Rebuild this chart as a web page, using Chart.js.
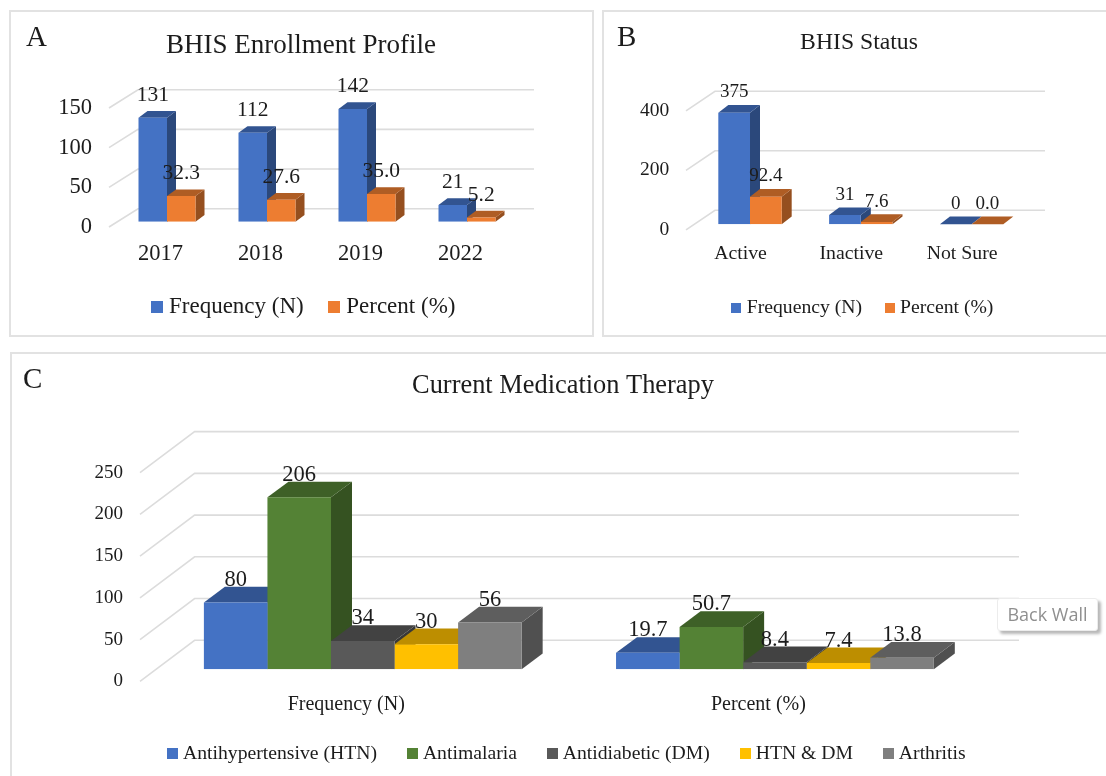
<!DOCTYPE html>
<html>
<head>
<meta charset="utf-8">
<title>BHIS charts</title>
<script src="https://cdn.jsdelivr.net/npm/chart.js@4"></script>
<style>
    html, body { margin: 0; padding: 0; background: #fff; }
    #page { position: relative; width: 1106px; height: 776px; overflow: hidden; background: #fff; font-family: "Liberation Serif", serif; }
    .panel { position: absolute; box-sizing: border-box; border: 2px solid #e2e2e2; }
    .letter { position: absolute; font-size: 29px; line-height: 1; color: #1c1c1c; }
    canvas { position: absolute; }
    #backWall { position: absolute; left: 997px; top: 598px; width: 101px; height: 33px; box-sizing: border-box; background: #fff;
        border: 1px solid #ececec; border-radius: 3px; box-shadow: 3px 3px 3px #b8b8b8; color: #8f8f8f;
        font: 18px/31px "Open Sans", sans-serif; text-align: center; }
</style>
</head>
<body>
<div id="page">
    <div class="panel" style="left:9px;top:10px;width:585px;height:327px"></div>
    <div class="panel" style="left:602px;top:10px;width:520px;height:327px"></div>
    <div class="panel" style="left:10px;top:352px;width:1120px;height:460px"></div>
    <canvas id="chartA" width="600" height="345" style="left:0;top:0;width:600px;height:345px"></canvas>
    <canvas id="chartB" width="506" height="345" style="left:600px;top:0;width:506px;height:345px"></canvas>
    <canvas id="chartC" width="1106" height="431" style="left:0;top:345px;width:1106px;height:431px"></canvas>
    <div class="letter" style="left:26px;top:22px">A</div>
    <div class="letter" style="left:617px;top:22px">B</div>
    <div class="letter" style="left:23px;top:364px">C</div>
    <div id="backWall">Back Wall</div>
</div>
<script>
// Panel A data
const enrollYears = ['2017', '2018', '2019', '2022'];
const enrollFreq = [131, 112, 142, 21];
const enrollPct = [32.3, 27.6, 35.0, 5.2];

// Panel B data
const statusLabels = ['Active', 'Inactive', 'Not Sure'];
const statusFreq = [375, 31, 0];
const statusPct = [92.4, 7.6, 0.0];

// Panel C data
const therapyLabels = ['Frequency (N)', 'Percent (%)'];
const therapyHtn = [80, 19.7];
const therapyMalaria = [206, 50.7];
const therapyDm = [34, 8.4];
const therapyBoth = [30, 7.4];
const therapyArthritis = [56, 13.8];

const BLUE = '#4472c4';
const ORANGE = '#ed7d31';
const GREEN = '#548235';
const DARK = '#595959';
const GOLD = '#ffc000';
const GRAY = '#7f7f7f';
const SERIF = '"Liberation Serif", serif';
const INK = '#1c1c1c';

function shade(hex, f) {
    const n = parseInt(hex.slice(1), 16);
    return `rgb(${((n >> 16) & 255) * f}, ${((n >> 8) & 255) * f}, ${(n & 255) * f})`;
}

function swatch(color, size) {
    const c = document.createElement('canvas');
    c.width = c.height = size;
    const g = c.getContext('2d');
    g.fillStyle = color;
    g.fillRect(0, 0, size, size);
    return c;
}

/**
 * Fake 3D look: slanted back wall grid, side and top faces behind the
 * library's own bars, value labels above, plus title and legend placement.
 */
function box3d(o) {
    return {
        id: 'box3d',
        afterLayout(chart) {
            const t = chart.titleBlock;
            const dt = o.titleX - (t.left + t.right) / 2;
            t.left += dt;
            t.right += dt;
            const l = chart.legend;
            const pad = l.options.labels.padding;
            const dl = o.legendX - (l.left + pad + l.right - l.lineWidths[0]) / 2;
            l.left += dl;
            l.right += dl;
            l.top += o.legendDy;
            l.bottom += o.legendDy;
            // tick labels are clipped to the scale box
            chart.scales.x.bottom = chart.height;
        },
        beforeDatasetsDraw(chart) {
            const { ctx, scales } = chart;
            ctx.save();
            ctx.strokeStyle = '#dcdcdc';
            ctx.lineWidth = 1.6;
            scales.y.ticks.forEach(tick => {
                const y = scales.y.getPixelForValue(tick.value);
                ctx.beginPath();
                ctx.moveTo(o.wall.frontX, y + o.wall.frontDy);
                ctx.lineTo(o.wall.backX, y + o.wall.backDy);
                ctx.lineTo(o.wall.rightX, y + o.wall.backDy);
                ctx.stroke();
            });
            // left to right so each top hides the side of the bar before it
            chart.data.labels.forEach((_, i) => {
                chart.data.datasets.forEach((ds, j) => {
                    const bar = chart.getDatasetMeta(j).data[i];
                    const left = bar.x - bar.width / 2;
                    const right = bar.x + bar.width / 2;
                    ctx.fillStyle = shade(ds.backgroundColor, 0.63);
                    ctx.beginPath();
                    ctx.moveTo(right, bar.y);
                    ctx.lineTo(right + o.dx, bar.y - o.dy);
                    ctx.lineTo(right + o.dx, bar.base - o.dy);
                    ctx.lineTo(right, bar.base);
                    ctx.fill();
                    ctx.fillStyle = shade(ds.backgroundColor, 0.74);
                    ctx.beginPath();
                    ctx.moveTo(left, bar.y);
                    ctx.lineTo(left + o.dx, bar.y - o.dy);
                    ctx.lineTo(right + o.dx, bar.y - o.dy);
                    ctx.lineTo(right, bar.y);
                    ctx.fill();
                });
            });
            ctx.restore();
        },
        afterDatasetsDraw(chart) {
            const { ctx } = chart;
            ctx.save();
            ctx.font = `${o.valueSize}px ${SERIF}`;
            ctx.fillStyle = INK;
            ctx.textAlign = 'center';
            ctx.textBaseline = 'middle';
            chart.data.datasets.forEach((ds, j) => {
                chart.getDatasetMeta(j).data.forEach((bar, i) => {
                    ctx.fillText(o.valueText(ds.data[i], j, i), bar.x, bar.y - o.valueGap);
                });
            });
            ctx.restore();
        }
    };
}

function makeChart(id, labels, series, o) {
    return new Chart(document.getElementById(id), {
        type: 'bar',
        data: {
            labels,
            datasets: series.map(s => ({
                label: s.label,
                data: s.data,
                backgroundColor: s.color,
                borderWidth: 0,
                categoryPercentage: o.groupWidth,
                barPercentage: 1
            }))
        },
        options: {
            responsive: false,
            animation: false,
            events: [],
            layout: { padding: { right: o.rightPad } },
            plugins: {
                title: {
                    display: true,
                    text: o.title,
                    color: INK,
                    font: { family: SERIF, size: o.titleSize, weight: 'normal', lineHeight: 1 },
                    padding: { top: o.titleTop, bottom: o.titleBottom }
                },
                legend: {
                    position: 'bottom',
                    labels: {
                        usePointStyle: true,
                        pointStyleWidth: 1,
                        padding: o.legendPad,
                        color: INK,
                        font: { family: SERIF, size: o.legendSize },
                        generateLabels: chart => chart.data.datasets.map((d, i) => ({
                            text: d.label,
                            fontColor: INK,
                            pointStyle: swatch(d.backgroundColor, o.boxSize),
                            lineWidth: 0,
                            datasetIndex: i
                        }))
                    }
                },
                tooltip: { enabled: false }
            },
            scales: {
                x: {
                    grid: { display: false, drawTicks: false },
                    border: { display: false },
                    afterFit: s => { s.height = o.xHeight; },
                    ticks: {
                        color: INK,
                        font: { family: SERIF, size: o.xSize },
                        padding: o.xPad,
                        labelOffset: o.xOffset,
                        maxRotation: 0
                    }
                },
                y: {
                    min: 0,
                    max: o.yMax,
                    grid: { display: false, drawTicks: false },
                    border: { display: false },
                    afterFit: s => { s.width = o.yWidth; },
                    ticks: {
                        stepSize: o.yStep,
                        color: INK,
                        font: { family: SERIF, size: o.ySize },
                        padding: o.yPad,
                        labelOffset: o.wall.frontDy
                    }
                }
            }
        },
        plugins: [box3d(o)]
    });
}

makeChart('chartA', enrollYears, [
    { label: 'Frequency (N)', data: enrollFreq, color: BLUE },
    { label: 'Percent (%)', data: enrollPct, color: ORANGE }
], {
    title: 'BHIS Enrollment Profile', titleSize: 27, titleTop: 32.5, titleBottom: 43.2, titleX: 301,
    legendSize: 23, legendPad: 30, legendX: 156.5, legendDy: -16.5, boxSize: 12,
    rightPad: 83, groupWidth: 0.57, yMax: 150, yStep: 50, yWidth: 117, yPad: 25, ySize: 22.5,
    xHeight: 60.3, xPad: 18.8, xOffset: -6.6, xSize: 22.5,
    dx: 9, dy: 6.7, valueSize: 21.5, valueGap: 22.5,
    wall: { frontX: 109, backX: 138, rightX: 534, frontDy: 5.3, backDy: -13 },
    valueText: (v, ds) => (ds === 1 ? v.toFixed(1) : String(v))
});

makeChart('chartB', statusLabels, [
    { label: 'Frequency (N)', data: statusFreq, color: BLUE },
    { label: 'Percent (%)', data: statusPct, color: ORANGE }
], {
    title: 'BHIS Status', titleSize: 23.7, titleTop: 30.5, titleBottom: 51.1, titleX: 259,
    legendSize: 19.7, legendPad: 27, legendX: 135.9, legendDy: -17, boxSize: 10,
    rightPad: 79, groupWidth: 0.572, yMax: 400, yStep: 200, yWidth: 94.6, yPad: 25.3, ySize: 19.5,
    xHeight: 64, xPad: 17.5, xOffset: -9.5, xSize: 19.8,
    dx: 10, dy: 7.7, valueSize: 19, valueGap: 20.5,
    wall: { frontX: 86, backX: 115, rightX: 445, frontDy: 5.5, backDy: -14 },
    valueText: (v, ds) => (ds === 1 ? v.toFixed(1) : String(v))
});

makeChart('chartC', therapyLabels, [
    { label: 'Antihypertensive (HTN)', data: therapyHtn, color: BLUE },
    { label: 'Antimalaria', data: therapyMalaria, color: GREEN },
    { label: 'Antidiabetic (DM)', data: therapyDm, color: DARK },
    { label: 'HTN & DM', data: therapyBoth, color: GOLD },
    { label: 'Arthritis', data: therapyArthritis, color: GRAY }
], {
    title: 'Current Medication Therapy', titleSize: 26.4, titleTop: 27.8, titleBottom: 61.4, titleX: 563,
    legendSize: 19.7, legendPad: 35, legendX: 172.1, legendDy: -2.5, boxSize: 11,
    rightPad: 125, groupWidth: 0.771, yMax: 250, yStep: 50, yWidth: 156.7, yPad: 33.7, ySize: 19,
    xHeight: 42, xPad: 23.3, xOffset: -16.5, xSize: 20,
    dx: 21, dy: 15.7, valueSize: 22.5, valueGap: 22.5,
    wall: { frontX: 140, backX: 194.6, rightX: 1019, frontDy: 12, backDy: -29 },
    valueText: (v, ds, cat) => (cat === 1 ? v.toFixed(1) : String(v))
});
</script>
</body>
</html>
